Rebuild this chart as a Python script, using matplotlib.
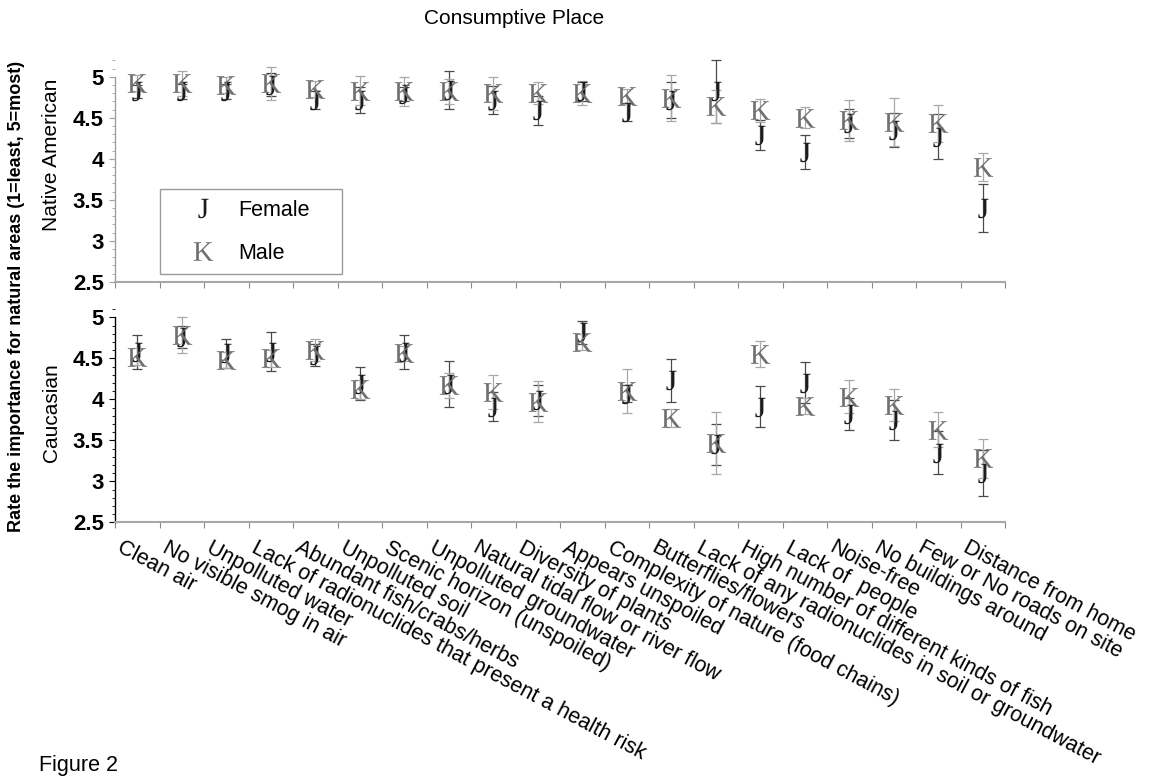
import numpy as np
import matplotlib
matplotlib.use("Agg")
import matplotlib.pyplot as plt
from matplotlib.ticker import MultipleLocator
from matplotlib.lines import Line2D
import matplotlib.transforms as mtrans

plt.rcParams['font.family'] = ['Liberation Sans', 'DejaVu Sans']
plt.rcParams['mathtext.fontset'] = 'custom'
plt.rcParams['mathtext.rm'] = 'Liberation Serif'

### Data
categories = ["Clean air", "No visible smog in air", "Unpolluted water",
              "Lack of radionuclides that present a health risk", "Abundant fish/crabs/herbs",
              "Unpolluted soil", "Scenic horizon (unspoiled)", "Unpolluted groundwater",
              "Natural tidal flow or river flow", "Diversity of plants", "Appears unspoiled",
              "Complexity of nature (food chains)", "Butterflies/flowers",
              "Lack of any radionuclides in soil or groundwater",
              "High number of different kinds of fish", "Lack of  people", "Noise-free",
              "No buildings around", "Few or No roads on site", "Distance from home"]

na_female = [4.82, 4.82, 4.82, 4.90, 4.72, 4.72, 4.79, 4.84, 4.72, 4.59,
             4.82, 4.57, 4.72, 4.82, 4.29, 4.08, 4.43, 4.35, 4.27, 3.40]
na_female_err = [0.08, 0.09, 0.09, 0.14, 0.11, 0.16, 0.09, 0.23, 0.17, 0.18,
                 0.12, 0.11, 0.22, 0.39, 0.18, 0.21, 0.18, 0.21, 0.27, 0.29]
na_male = [4.92, 4.92, 4.90, 4.92, 4.85, 4.83, 4.82, 4.82, 4.80, 4.80,
           4.80, 4.76, 4.74, 4.64, 4.59, 4.50, 4.47, 4.45, 4.43, 3.90]
na_male_err = [0.10, 0.15, 0.10, 0.20, 0.10, 0.18, 0.18, 0.15, 0.20, 0.13,
               0.15, 0.09, 0.28, 0.20, 0.14, 0.13, 0.25, 0.29, 0.22, 0.17]

ca_female = [4.58, 4.76, 4.56, 4.58, 4.54, 4.19, 4.58, 4.19, 3.91, 3.99,
             4.82, 4.07, 4.23, 3.45, 3.91, 4.20, 3.82, 3.75, 3.35, 3.10]
ca_female_err = [0.21, 0.13, 0.18, 0.24, 0.13, 0.20, 0.21, 0.28, 0.18, 0.19,
                 0.14, 0.10, 0.26, 0.25, 0.25, 0.25, 0.20, 0.24, 0.26, 0.28]
ca_male = [4.52, 4.78, 4.48, 4.50, 4.60, 4.12, 4.56, 4.17, 4.09, 3.97,
           4.70, 4.10, 3.77, 3.47, 4.55, 3.92, 4.03, 3.93, 3.63, 3.28]
ca_male_err = [0.10, 0.22, 0.10, 0.10, 0.13, 0.12, 0.09, 0.15, 0.21, 0.25,
               0.10, 0.27, 0.11, 0.38, 0.16, 0.10, 0.20, 0.20, 0.21, 0.24]

yticks = [2.5, 3, 3.5, 4, 4.5, 5]
ytick_labels = ["2.5", "3", "3.5", "4", "4.5", "5"]
###

x = np.arange(len(categories)) + 0.5

f_marker = r"$\mathrm{J}$"
m_marker = r"$\mathrm{K}$"
f_col, m_col = "#1c1c1c", "#707070"
f_bar, m_bar = "#4a4a4a", "#a8a8a8"
msize = 14

fig = plt.figure(figsize=(11.63, 7.81), dpi=100)
ax0 = fig.add_axes([0.0989, 0.6393, 0.7653, 0.2887])
ax1 = fig.add_axes([0.0989, 0.3312, 0.7653, 0.2730])


def draw_panel(ax, fem, fem_err, mal, mal_err, top, left_col):
    ax.errorbar(x, fem, yerr=fem_err, fmt="none", ecolor=f_bar, elinewidth=0.9, capsize=3.8, capthick=0.9)
    ax.errorbar(x, mal, yerr=mal_err, fmt="none", ecolor=m_bar, elinewidth=0.9, capsize=3.8, capthick=0.9)
    ax.plot(x, fem, ls="", marker=f_marker, markersize=msize, color=f_col, mew=0, label="Female")
    ax.plot(x, mal, ls="", marker=m_marker, markersize=msize, color=m_col, mew=0, label="Male")

    ax.set_xlim(0, len(categories))
    ax.set_ylim(2.5, top)
    ax.spines["top"].set_visible(False)
    ax.spines["right"].set_visible(False)
    ax.spines["left"].set_bounds(2.5, 5)
    ax.spines["left"].set_color(left_col)
    ax.spines["bottom"].set_color("#a8a8a8")
    ax.spines["left"].set_linewidth(1.0)
    ax.spines["bottom"].set_linewidth(1.5)

    ax.set_yticks(yticks)
    ax.set_yticklabels(ytick_labels, fontsize=16, fontweight="bold")
    ax.yaxis.set_minor_locator(MultipleLocator(0.1))
    ax.tick_params(axis="y", which="major", direction="out", length=4, width=0.8, color=left_col, pad=4)
    ax.tick_params(axis="y", which="minor", direction="out", length=2.5, width=0.6, color=left_col)

    ax.set_xticks(np.arange(len(categories) + 1))
    ax.set_xticklabels([])
    ax.tick_params(axis="x", which="major", direction="out", length=4, width=0.8, color="#8a8a8a")


draw_panel(ax0, na_female, na_female_err, na_male, na_male_err, 5.25, "#a0a0a0")
draw_panel(ax1, ca_female, ca_female_err, ca_male, ca_male_err, 5.1, "black")

# category labels under the lower panel
trans = mtrans.blended_transform_factory(ax1.transData, ax1.transAxes)
for xi, lab in zip(x, categories):
    ax1.text(xi - 0.3, -0.07, lab, transform=trans, rotation=-28, rotation_mode="anchor",
             ha="left", va="top", fontsize=15.5)

handles = [Line2D([], [], ls="", marker=f_marker, markersize=msize, color=f_col, mew=0),
           Line2D([], [], ls="", marker=m_marker, markersize=msize, color=m_col, mew=0)]
leg = ax0.legend(handles, ["Female", "Male"], loc="lower left",
                 bbox_to_anchor=(0.0506, 0.0328, 0.2045, 0.3725), mode="expand",
                 fontsize=15.5, frameon=True, fancybox=False, framealpha=1,
                 edgecolor="#9a9a9a", borderpad=0.5, labelspacing=1.0,
                 handlelength=3.0, handletextpad=0.15, borderaxespad=0)
leg.get_frame().set_linewidth(1.0)

fig.text(514 / 1163, 1 - 18 / 781, "Consumptive Place", ha="center", va="center", fontsize=15)
fig.text(17 / 1163, 1 - 296 / 781, "Rate the importance for natural areas (1=least, 5=most)",
         rotation=90, ha="center", va="center", fontsize=13, fontweight="bold")
fig.text(52 / 1163, 1 - 155 / 781, "Native American", rotation=90, ha="center", va="center", fontsize=15)
fig.text(52 / 1163, 1 - 413 / 781, "Caucasian", rotation=90, ha="center", va="center", fontsize=15)
fig.text(39 / 1163, 1 - 766 / 781, "Figure 2", ha="left", va="center", fontsize=15.5)

fig.savefig("out.png", dpi=100)
